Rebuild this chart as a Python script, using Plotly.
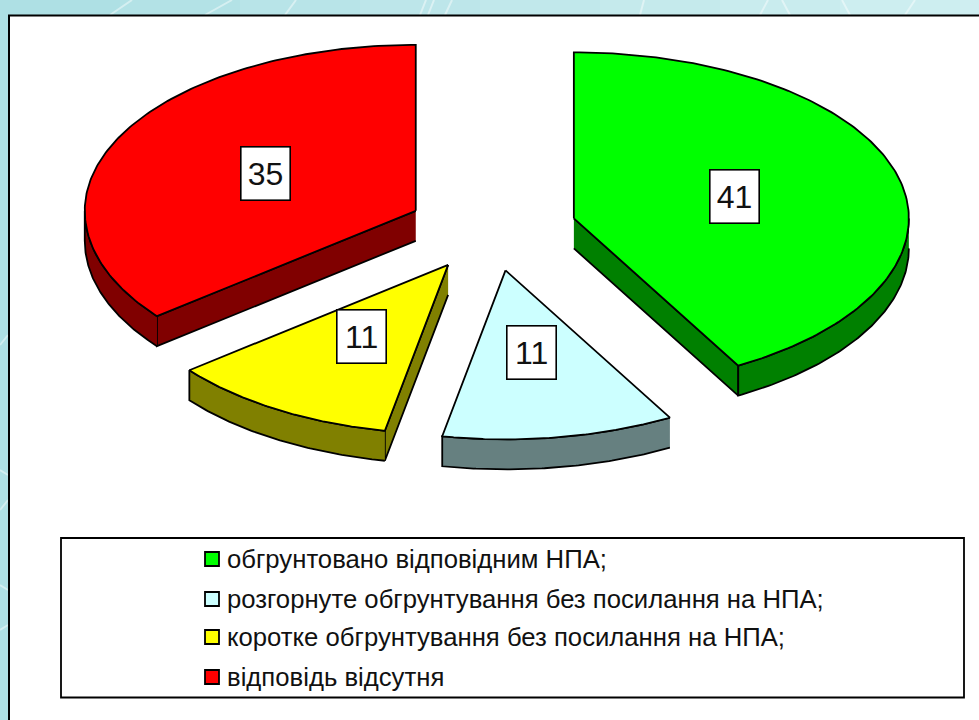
import numpy as np
import plotly.graph_objects as go

categories = ["обгрунтовано відповідним НПА;", "розгорнуте обгрунтування без посилання на НПА;",
              "коротке обгрунтування без посилання на НПА;", "відповідь відсутня"]
values = [41, 11, 11, 35]
top_colors = ["#00ff00", "#ccffff", "#ffff00", "#ff0000"]
side_colors = ["#008000", "#668080", "#808000", "#800000"]

# 3-D pie geometry, in page pixels
CX, CY, RX, RY, DEPTH, EXPLODE = 492, 229, 335, 166, 30, 0.2526
RX_LEFT, RY_FRONT = 331, 169
FONT = "Liberation Sans, Arial, sans-serif"
LEGEND_Y = [559, 599, 637, 677]
LINE = 1.8

# background decoration: soft teal bands and pale streaks
band_x = [0, 120, 240, 360, 480, 600, 720, 840, 960]
band_colors = ["#aee0e4", "#b3e2e6", "#b8e4e8", "#bde6ea", "#c1e8eb", "#c5eaec", "#c9ecee", "#cdeef0", "#cfeef1"]
streaks = [(110, 15, 132, 0), (205, 15, 232, 0), (285, 15, 296, 0), (420, 15, 426, 0), (428, 15, 434, 0),
           (445, 15, 452, 0), (640, 15, 644, 0), (760, 15, 768, 0), (790, 15, 782, 0), (850, 15, 842, 0),
           (905, 15, 915, 0), (0, 345, 8, 335), (0, 470, 8, 475), (0, 510, 8, 500), (0, 585, 8, 590), (0, 630, 8, 625)]

def pt(ax, ay, deg, r=1.0):
    t = np.radians(deg)
    s, c = np.sin(t), np.cos(t)
    return ax + r * np.where(s >= 0, RX, RX_LEFT) * s, ay - r * np.where(c >= 0, RY, RY_FRONT) * c

def offset(deg):
    t = np.radians(deg)
    return CX + EXPLODE * RX * np.sin(t), CY - EXPLODE * RY * np.cos(t)

fig = go.Figure()
total = sum(values)
start = 0.0
annotations = []
for name, v, top, side, ly in zip(categories, values, top_colors, side_colors, LEGEND_Y):
    sweep = 360 * v / total
    end = start + sweep
    mid = (start + end) / 2
    ax, ay = offset(mid)

    def wall(xs, ys):
        xs, ys = list(xs), list(ys)
        fig.add_trace(go.Scatter(x=xs + xs[::-1], y=ys + [y + DEPTH for y in ys[::-1]],
                                 mode="lines", fill="toself", fillcolor=side,
                                 line=dict(color="black", width=LINE),
                                 hoverinfo="skip", showlegend=False))
    # cut faces turned to the viewer
    for edge, sign in ((start, -1), (end, 1)):
        if sign * np.sin(np.radians(edge)) > 1e-6:
            ex, ey = pt(ax, ay, edge)
            wall([ax, float(ex)], [ay, float(ey)])
    # outer wall on the front half of the rim
    lo, hi = max(start, 90), min(end, 270)
    if hi > lo:
        ex, ey = pt(ax, ay, np.linspace(lo, hi, 90))
        wall(ex, ey)
    # top face
    ex, ey = pt(ax, ay, np.linspace(start, end, 160))
    fig.add_trace(go.Scatter(x=[ax] + list(ex) + [ax], y=[ay] + list(ey) + [ay],
                             mode="lines", fill="toself", fillcolor=top,
                             line=dict(color="black", width=LINE),
                             name=name, text=[f"{name} {v}"] * 162, hoverinfo="text", showlegend=False))
    # value label
    lx, ly2 = pt(ax, ay, mid, 0.5)
    annotations.append(dict(x=float(lx) - 1, y=float(ly2) - 1, text=str(v), showarrow=False, width=48, height=52,
                            bgcolor="white", bordercolor="black", borderwidth=1.6, borderpad=0,
                            font=dict(family=FONT, size=32, color="#111111")))
    # legend row
    fig.add_trace(go.Scatter(x=[212], y=[ly], mode="markers",
                             marker=dict(symbol="square", size=14, color=top, line=dict(color="black", width=1.8)),
                             hoverinfo="skip", showlegend=False))
    annotations.append(dict(x=226, y=ly, text=name, showarrow=False, xanchor="left", yanchor="middle", xshift=-1,
                            font=dict(family=FONT, size=25.7, color="#111111")))
    start = end

shapes = []
for i, c in enumerate(band_colors):
    x1 = band_x[i + 1] if i + 1 < len(band_x) else 979
    shapes.append(dict(type="rect", xref="x", yref="y", x0=band_x[i], x1=x1, y0=0, y1=720,
                       fillcolor=c, line=dict(width=0), layer="below"))
for x0, y0, x1, y1 in streaks:
    shapes.append(dict(type="line", xref="x", yref="y", x0=x0, y0=y0, x1=x1, y1=y1,
                       line=dict(color="rgba(255,255,255,0.45)", width=2), layer="below"))
shapes += [
    dict(type="rect", xref="x", yref="y", x0=9, y0=15.5, x1=990, y1=730, fillcolor="white",
         line=dict(color="black", width=2), layer="below"),
    dict(type="rect", xref="x", yref="y", x0=61, y0=538, x1=964, y1=697.5, fillcolor="white",
         line=dict(color="black", width=1.8), layer="below"),
]

fig.update_layout(width=979, height=720, margin=dict(l=0, r=0, t=0, b=0), autosize=False,
                  paper_bgcolor="#bfe6e8", plot_bgcolor="rgba(0,0,0,0)", showlegend=False,
                  xaxis=dict(range=[0, 979], visible=False, fixedrange=True),
                  yaxis=dict(range=[720, 0], visible=False, fixedrange=True),
                  shapes=shapes, annotations=annotations)
fig.write_html("out.html", config=dict(displayModeBar=False),
               post_script="document.body.style.margin='0';document.body.style.overflow='hidden';")
